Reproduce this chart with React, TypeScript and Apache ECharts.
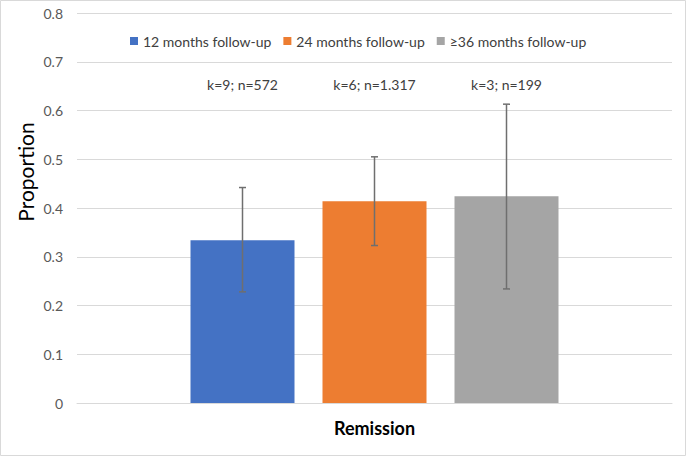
import React, { useEffect, useRef } from "react";
import * as echarts from "echarts";

const categories = ["Remission"];
const seriesNames = ["12 months follow-up", "24 months follow-up", "≥36 months follow-up"];
const proportions = [0.334, 0.414, 0.424];
const lowerCI = [0.228, 0.323, 0.234];
const upperCI = [0.442, 0.505, 0.613];
const studyLabels = ["k=9; n=572", "k=6; n=1.317", "k=3; n=199"];
const labelLevel = 0.653;
const yTicks = { min: 0, max: 0.8, interval: 0.1 };

const colors = ["#4472C4", "#ED7D31", "#A5A5A5"];
const FONT = "Lato, 'Open Sans', sans-serif";
const BAR_W = 104;
const BAR_GAP = 28;

export default function App() {
  const ref = useRef<HTMLDivElement>(null);
  useEffect(() => {
    if (!ref.current) return;
    const chart = echarts.init(ref.current, undefined, { renderer: "svg" });
    const barSeries = seriesNames.map((name, i) => ({
      name,
      type: "bar",
      data: [proportions[i]],
      barWidth: BAR_W,
      barGap: `${(BAR_GAP / BAR_W) * 100}%`,
      itemStyle: { color: colors[i] },
      z: 2,
    }));
    const errSeries = seriesNames.map((name, i) => ({
      name: name + "-err",
      type: "custom",
      data: [[0, lowerCI[i], upperCI[i], labelLevel]],
      z: 5,
      silent: true,
      renderItem: (params: any, api: any) => {
        const off = (i - 1) * (BAR_W + BAR_GAP);
        const lo = api.coord([api.value(0), api.value(1)]);
        const hi = api.coord([api.value(0), api.value(2)]);
        const lab = api.coord([api.value(0), api.value(3)]);
        const x = lo[0] + off;
        const cap = 3.5;
        const st = { stroke: "#6f6f6f", lineWidth: 1.5 };
        return {
          type: "group",
          children: [
            { type: "line", shape: { x1: x, y1: lo[1], x2: x, y2: hi[1] }, style: st },
            { type: "line", shape: { x1: x - cap, y1: lo[1], x2: x + cap, y2: lo[1] }, style: st },
            { type: "line", shape: { x1: x - cap, y1: hi[1], x2: x + cap, y2: hi[1] }, style: st },
            {
              type: "text",
              x,
              y: lab[1],
              style: {
                text: studyLabels[i],
                align: "center",
                verticalAlign: "middle",
                fill: "#404040",
                font: `14px ${FONT}`,
              },
            },
          ],
        };
      },
    }));
    chart.setOption({
      animation: false,
      backgroundColor: "#fff",
      textStyle: { fontFamily: FONT },
      grid: { left: 77, right: 14, top: 13, bottom: 53, containLabel: false },
      legend: {
        data: seriesNames,
        top: 29,
        left: 125,
        itemWidth: 8,
        itemHeight: 8,
        itemGap: 12,
        icon: "rect",
        textStyle: { fontSize: 14, color: "#404040", fontFamily: FONT },
      },
      xAxis: {
        type: "category",
        data: categories,
        axisLine: { lineStyle: { color: "#d9d9d9", width: 1 } },
        axisTick: { show: false },
        axisLabel: { margin: 16, fontSize: 18, fontWeight: "bold", color: "#000", fontFamily: FONT },
      },
      yAxis: {
        type: "value",
        min: yTicks.min,
        max: yTicks.max,
        interval: yTicks.interval,
        axisLine: { show: false },
        axisTick: { show: false },
        splitLine: { lineStyle: { color: "#d9d9d9", width: 1 } },
        axisLabel: {
          margin: 14,
          fontSize: 14,
          color: "#595959",
          fontFamily: FONT,
          formatter: (v: number) => (v === 0 ? "0" : String(Math.round(v * 10) / 10)),
        },
      },
      graphic: [
        {
          type: "rect",
          shape: { x: 0.5, y: 0.5, width: 685, height: 455 },
          style: { fill: "none", stroke: "#d9d9d9", lineWidth: 1 },
          silent: true,
        },
        {
          type: "text",
          x: 25,
          y: 172,
          rotation: Math.PI / 2,
          style: {
            text: "Proportion",
            align: "center",
            verticalAlign: "middle",
            fill: "#000",
            font: `21px ${FONT}`,
          },
        },
      ],
      series: [...barSeries, ...errSeries],
    });
    return () => chart.dispose();
  }, []);
  return (
    <div
      ref={ref}
      style={{ position: "absolute", left: 0, top: 0, width: 686, height: 456 }}
    />
  );
}
